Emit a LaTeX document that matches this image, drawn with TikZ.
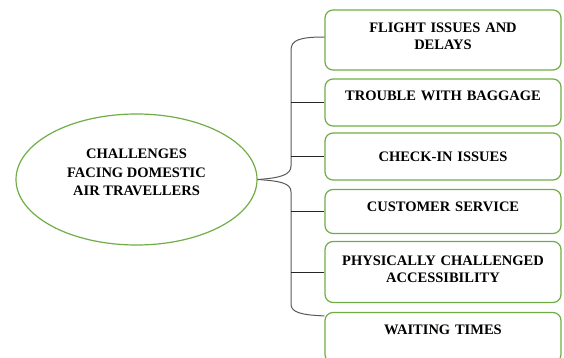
\documentclass[tikz,border=0pt]{standalone}
\usepackage{fontspec}
\setmainfont{Liberation Serif}
\usepackage{xcolor}
\usepackage{tikz}
\usetikzlibrary{shapes,arrows}
\definecolor{leaf}{HTML}{70AD47}
\tikzstyle{oval} = [ellipse, draw=leaf, line width=1.2pt, minimum width=241pt, inner sep=0pt,
    minimum height=131pt, align=center, text depth=14pt, font=\bfseries\fontsize{14.5}{18.5}\selectfont]
\tikzstyle{issue} = [rectangle, draw=leaf, line width=1.2pt, rounded corners=8pt, minimum
    width=236pt, text width=224pt, text centered, font=\bfseries\fontsize{14.5}{17}\selectfont]
\tikzstyle{brace} = [draw, black!65, line width=1pt]
\tikzstyle{tick} = [draw, black!85, line width=0.8pt]

\begin{document}
\begin{tikzpicture}[x=1pt,y=1pt,node distance=55pt]
      \useasboundingbox (0,0) rectangle (564,-358);
      \node [oval] (main) at (136.5,-179.5) {CHALLENGES\\FACING DOMESTIC\\AIR TRAVELLERS};
      \node [issue, minimum height=60pt, text depth=25pt] (flight) at (443,-40) {FLIGHT ISSUES AND\\DELAYS};
      \node [issue, below of=flight, yshift=-7.5pt, minimum height=47pt, text depth=14pt] (bag) {TROUBLE WITH BAGGAGE};
      \node [issue, below of=bag, yshift=1pt, minimum height=47pt, text depth=0pt] (checkin) {CHECK-IN ISSUES};
      \node [issue, below of=checkin, minimum height=44pt, text depth=10pt] (service) {CUSTOMER SERVICE};
      \node [issue, below of=service, yshift=-5.5pt, minimum height=61pt, text depth=23pt] (access) {PHYSICALLY CHALLENGED\\ACCESSIBILITY};
      \node [issue, below of=access, yshift=-10.5pt, minimum height=50pt, text depth=16pt] (wait) {WAITING TIMES};

      \coordinate (spine) at (291,-178);

      % the brace
      \path [brace] ([yshift=3pt]flight.west) .. controls (300,-37) and (291,-40) .. (291,-50)
          -- (291,-166) .. controls (291,-175) and (280,-178) .. (main.east);
      \path [brace] (main.east) .. controls (280,-181) and (291,-183) .. (291,-192)
          -- (291,-304) .. controls (291,-312) and (300,-315) .. ([yshift=-4pt]wait.north west);

      \foreach \n in {bag,checkin,service,access}
          \path [tick] (\n.west) -- (\n.west -| spine);
\end{tikzpicture}
\end{document}
